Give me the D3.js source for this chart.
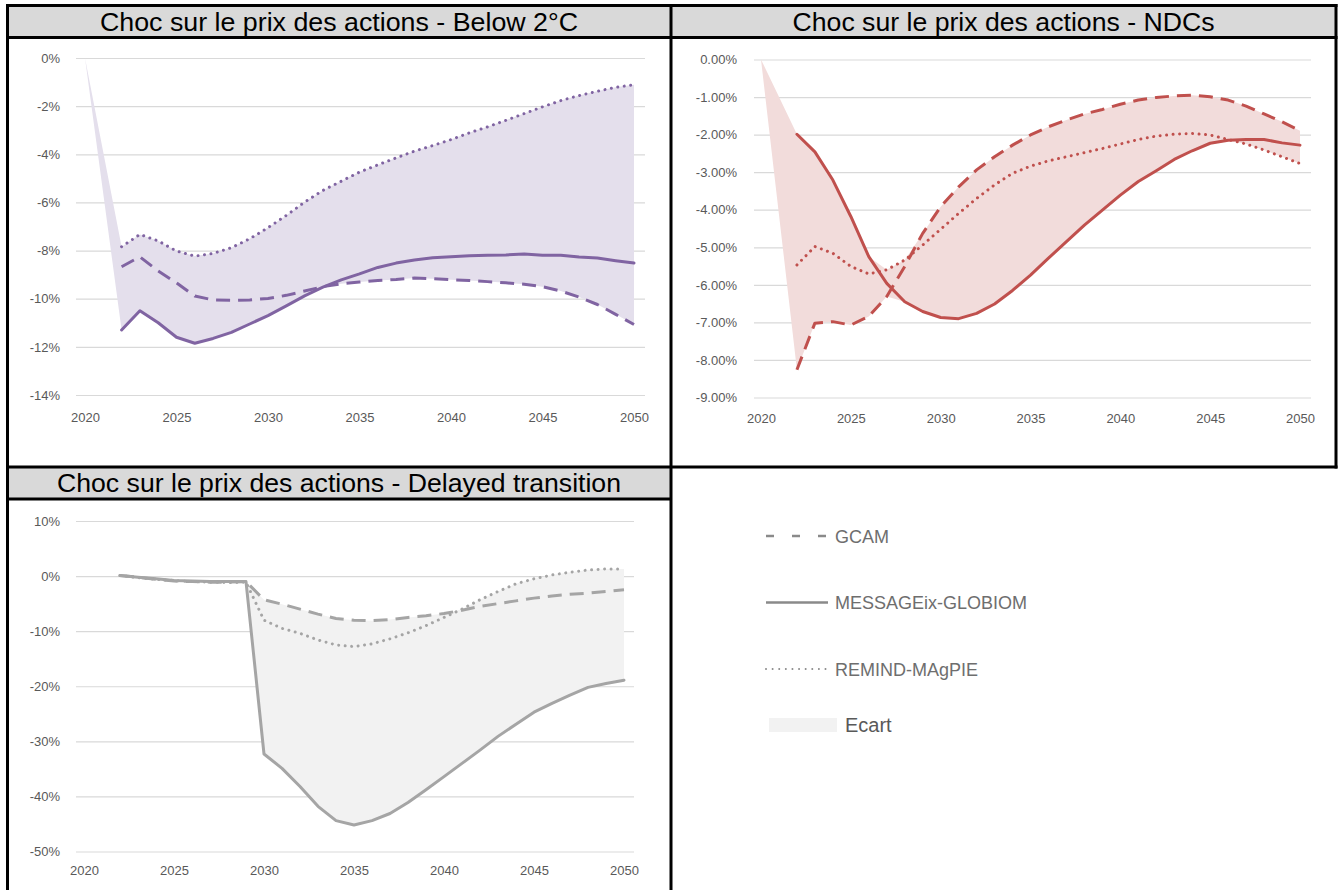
<!DOCTYPE html>
<html>
<head>
<meta charset="utf-8">
<script src="https://cdn.jsdelivr.net/npm/d3@7"></script>
<style>
body { margin: 0; background: #fff; }
svg { display: block; }
</style>
</head>
<body>
<svg width="1343" height="890"></svg>
<script>
// années des séries (2022 -> 2050)
const annees = [2022, 2023, 2024, 2025, 2026, 2027, 2028, 2029, 2030,
  2031, 2032, 2033, 2034, 2035, 2036, 2037, 2038, 2039, 2040,
  2041, 2042, 2043, 2044, 2045, 2046, 2047, 2048, 2049, 2050]
const anneesAxe = [2020, 2025, 2030, 2035, 2040, 2045, 2050]
const modeles = ['GCAM', 'MESSAGEix-GLOBIOM', 'REMIND-MAgPIE']
const legendeEcart = 'Ecart'

// Below 2°C (en %)
const b2Gcam = [-8.67, -8.26, -8.85, -9.34, -9.89, -10.05, -10.07, -10.05, -9.99,
  -9.86, -9.68, -9.5, -9.38, -9.31, -9.24, -9.2, -9.14, -9.17, -9.21,
  -9.24, -9.29, -9.34, -9.4, -9.5, -9.68, -9.93, -10.24, -10.65, -11.07]
const b2Message = [-11.3, -10.5, -11.0, -11.6, -11.85, -11.65, -11.4, -11.05, -10.7,
  -10.3, -9.88, -9.52, -9.22, -8.97, -8.7, -8.52, -8.39, -8.3, -8.26,
  -8.22, -8.19, -8.18, -8.14, -8.19, -8.19, -8.27, -8.31, -8.42, -8.52]
const b2Remind = [-7.84, -7.33, -7.6, -8.02, -8.23, -8.12, -7.88, -7.51, -7.05,
  -6.54, -5.99, -5.5, -5.12, -4.74, -4.44, -4.15, -3.87, -3.64, -3.39,
  -3.11, -2.86, -2.59, -2.31, -2.03, -1.77, -1.56, -1.38, -1.22, -1.11]
const b2Ticks = [0, -2, -4, -6, -8, -10, -12, -14]

// NDCs (en %)
const ndcGcam = [-8.26, -7.02, -6.98, -7.07, -6.84, -6.31, -5.51, -4.63, -3.92,
  -3.39, -2.94, -2.59, -2.28, -2.01, -1.79, -1.61, -1.45, -1.33, -1.19,
  -1.08, -1.01, -0.97, -0.95, -0.99, -1.08, -1.24, -1.45, -1.66, -1.9]
const ndcMessage = [-1.99, -2.46, -3.21, -4.18, -5.25, -5.96, -6.45, -6.71, -6.87,
  -6.9, -6.76, -6.51, -6.15, -5.74, -5.29, -4.85, -4.41, -4.01, -3.61,
  -3.25, -2.96, -2.66, -2.43, -2.23, -2.15, -2.13, -2.13, -2.22, -2.28]
const ndcRemind = [-5.47, -4.98, -5.16, -5.51, -5.71, -5.6, -5.34, -4.94, -4.52,
  -4.1, -3.7, -3.34, -3.03, -2.84, -2.7, -2.59, -2.48, -2.37, -2.25,
  -2.13, -2.04, -1.99, -1.97, -2.01, -2.13, -2.25, -2.41, -2.59, -2.77]
const ndcTicks = [0, -1, -2, -3, -4, -5, -6, -7, -8, -9]

// Delayed transition (en %)
const dtGcam = [0.1, -0.2, -0.6, -0.9, -1.0, -1.1, -1.1, -1.0, -4.3,
  -5.1, -6.0, -6.9, -7.7, -8.0, -8.1, -7.9, -7.5, -7.2, -6.8,
  -6.2, -5.5, -5.0, -4.5, -4.0, -3.6, -3.3, -3.1, -2.8, -2.5]
const dtMessage = [0.1, -0.2, -0.5, -0.8, -0.9, -1.0, -1.0, -1.0, -32.3,
  -34.9, -38.2, -41.8, -44.4, -45.2, -44.4, -43.1, -41.1, -38.8, -36.4,
  -34.0, -31.6, -29.1, -26.9, -24.7, -23.1, -21.6, -20.2, -19.5, -18.9]
const dtRemind = [0.1, -0.3, -0.6, -0.8, -1.0, -1.1, -1.2, -1.1, -8.0,
  -9.5, -10.4, -11.6, -12.5, -12.8, -12.3, -11.4, -10.3, -9.0, -7.5,
  -6.0, -4.3, -2.8, -1.4, -0.5, 0.2, 0.7, 1.1, 1.3, 1.3]
const dtTicks = [10, 0, -10, -20, -30, -40, -50]

// point de départ de l'écart en 2020 (graphes du haut)
const ancre2020 = { annee: 2020, valeur: 0 }

const svg = d3.select('svg')
const FONT = "'Liberation Sans', Arial, sans-serif"

svg.append('rect').attr('width', 1343).attr('height', 890).attr('fill', '#fff')

function pct (dec) {
  return d => (d < 0 ? '-' : '') + Math.abs(d).toFixed(dec) + '%'
}

const styles = [
  { dash: '14,8', cap: 'butt' },
  { dash: null, cap: 'round' },
  { dash: '0.01,6.5', cap: 'round' }
]

function Panel (cfg) {
  const g = svg.append('g')
  const x = d3.scaleLinear().domain([2020, 2050]).range(cfg.xr)
  const y = d3.scaleLinear().domain(cfg.yd).range(cfg.yr)

  // grille + étiquettes Y
  const yAxis = d3.axisLeft(y)
    .tickValues(cfg.ticks)
    .tickFormat(pct(cfg.dec))
    .tickSize(-(cfg.grid[1] - cfg.grid[0]))
    .tickPadding(cfg.pad)
  const ga = g.append('g')
    .attr('transform', 'translate(' + cfg.grid[0] + ',0)')
    .call(yAxis)
  ga.select('.domain').remove()
  ga.selectAll('line').attr('stroke', '#d9d9d9').attr('stroke-width', 1.2)
  ga.selectAll('text').attr('fill', '#595959').style('font-family', FONT).style('font-size', '13px')

  const xAxis = d3.axisBottom(x)
    .tickValues(anneesAxe)
    .tickFormat(d3.format('d'))
    .tickSize(0)
    .tickPadding(cfg.xpad)
  const gx = g.append('g')
    .attr('transform', 'translate(0,' + cfg.yr[0] + ')')
    .call(xAxis)
  gx.select('.domain').remove()
  gx.selectAll('text').attr('fill', '#595959').style('font-family', FONT).style('font-size', '13px')

  // écart min / max
  let pts = annees.map((a, i) => ({
    annee: a,
    lo: d3.min(cfg.series, s => s[i]),
    hi: d3.max(cfg.series, s => s[i])
  }))
  if (cfg.ancre) pts = [{ annee: cfg.ancre.annee, lo: cfg.ancre.valeur, hi: cfg.ancre.valeur }].concat(pts)
  const area = d3.area()
    .x(d => x(d.annee))
    .y0(d => y(d.lo))
    .y1(d => y(d.hi))
  g.append('path')
    .datum(pts)
    .attr('d', area)
    .attr('fill', cfg.fill)

  const line = d3.line()
    .x((d, i) => x(annees[i]))
    .y(d => y(d))
  cfg.series.forEach((s, k) => {
    g.append('path')
      .datum(s)
      .attr('d', line)
      .attr('fill', 'none')
      .attr('stroke', cfg.color)
      .attr('stroke-width', 3)
      .attr('stroke-linecap', styles[k].cap)
      .attr('stroke-linejoin', 'round')
      .attr('stroke-dasharray', styles[k].dash)
  })

  // bandeau titre
  svg.append('rect')
    .attr('x', cfg.bar[0]).attr('y', cfg.bar[1])
    .attr('width', cfg.bar[2]).attr('height', cfg.bar[3])
    .attr('fill', '#d9d9d9')
  svg.append('text')
    .attr('x', cfg.bar[0] + cfg.bar[2] / 2)
    .attr('y', cfg.bar[1] + cfg.bar[3] / 2 + 9)
    .attr('text-anchor', 'middle')
    .attr('textLength', cfg.tlen)
    .attr('lengthAdjust', 'spacingAndGlyphs')
    .style('font-family', FONT)
    .style('font-size', '25px')
    .attr('fill', '#000')
    .text(cfg.title)
}

Panel({
  title: 'Choc sur le prix des actions - Below 2°C',
  series: [b2Gcam, b2Message, b2Remind],
  ticks: b2Ticks, dec: 0, yd: [-14, 0], yr: [395, 58],
  xr: [85, 634], grid: [76, 645], pad: 16, xpad: 18,
  color: '#8064a2', fill: '#e4dfec', ancre: ancre2020,
  bar: [7, 6, 664, 31], tlen: 478
})
Panel({
  title: 'Choc sur le prix des actions - NDCs',
  series: [ndcGcam, ndcMessage, ndcRemind],
  ticks: ndcTicks, dec: 2, yd: [-9, 0], yr: [397.5, 59.5],
  xr: [761, 1300], grid: [754, 1311], pad: 17, xpad: 16,
  color: '#c0504d', fill: '#f2dcdb', ancre: ancre2020,
  bar: [671, 6, 665, 31], tlen: 422
})
Panel({
  title: 'Choc sur le prix des actions - Delayed transition',
  series: [dtGcam, dtMessage, dtRemind],
  ticks: dtTicks, dec: 0, yd: [-50, 10], yr: [851.5, 521],
  xr: [84, 624], grid: [76, 634], pad: 16, xpad: 14,
  color: '#a5a5a5', fill: '#f2f2f2', ancre: null,
  bar: [7, 467, 664, 32], tlen: 564
})

// cadres
const cadres = [
  [6, 5.5, 1337.5, 5.5], [6, 37.5, 1337.5, 37.5], [6, 467, 1337.5, 467], [6, 499, 671, 499],
  [7.5, 4, 7.5, 890], [671, 4, 671, 890], [1336, 4, 1336, 468.5]
]
svg.selectAll('.cadre')
  .data(cadres)
  .enter()
  .append('line')
  .attr('class', 'cadre')
  .attr('x1', d => d[0]).attr('y1', d => d[1])
  .attr('x2', d => d[2]).attr('y2', d => d[3])
  .attr('stroke', '#000')
  .attr('stroke-width', 3)

// légende
const leg = svg.append('g')
const legY = d3.scalePoint().domain(modeles).range([536, 669])
const legDash = ['8,18', null, '0.01,6.6']
modeles.forEach((m, k) => {
  leg.append('line')
    .attr('x1', 766).attr('x2', 828)
    .attr('y1', legY(m)).attr('y2', legY(m))
    .attr('stroke', '#8a8a8a')
    .attr('stroke-width', k === 2 ? 2 : 2.5)
    .attr('stroke-linecap', k === 2 ? 'round' : 'butt')
    .attr('stroke-dasharray', legDash[k])
  leg.append('text')
    .attr('x', 835).attr('y', legY(m) + 6.5)
    .attr('fill', '#6e6e6e')
    .style('font-family', FONT)
    .style('font-size', '18px')
    .text(m)
})
leg.append('rect')
  .attr('x', 769).attr('y', 718).attr('width', 68).attr('height', 14)
  .attr('fill', '#f2f2f2')
leg.append('text')
  .attr('x', 845).attr('y', 732)
  .attr('fill', '#595959')
  .style('font-family', FONT)
  .style('font-size', '20px')
  .text(legendeEcart)
</script>
</body>
</html>
